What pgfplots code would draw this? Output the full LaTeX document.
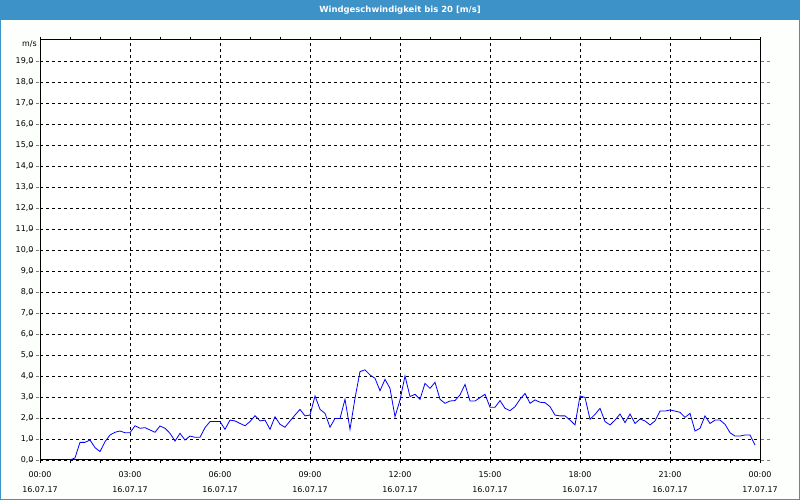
\documentclass[border=0pt]{standalone}
\usepackage{fontspec}
\setmainfont{DejaVu Sans}
\usepackage{pgfplots}
\pgfplotsset{compat=1.18}
\definecolor{titlebar}{RGB}{61,146,200}
\definecolor{bg}{RGB}{252,255,252}
\definecolor{line}{RGB}{0,0,255}
\begin{document}
\begin{tikzpicture}[x=1bp,y=1bp]
\useasboundingbox (0,0) rectangle (800,500);
\fill[bg] (0,0) rectangle (800,500);
\fill[titlebar] (0,480) rectangle (800,500);
\draw[titlebar,line width=1bp] (0.5,0.5) rectangle (799.5,499.5);
\node[text=white,font=\fontsize{8.5}{10}\selectfont\bfseries] at (400,490) {Windgeschwindigkeit bis 20 [m/s]};
\begin{axis}[
  at={(40bp,40bp)}, anchor=south west,
  scale only axis, width=720bp, height=420bp,
  xmin=0, xmax=1440, ymin=0, ymax=20,
  xtick={0,180,...,1440},
  minor xtick={60,120,240,300,420,480,600,660,780,840,960,1020,1140,1200,1320,1380},
  xticklabels={{00:00\\[5bp]16.07.17},{03:00\\[5bp]16.07.17},{06:00\\[5bp]16.07.17},{09:00\\[5bp]16.07.17},{12:00\\[5bp]16.07.17},{15:00\\[5bp]16.07.17},{18:00\\[5bp]16.07.17},{21:00\\[5bp]16.07.17},{00:00\\[5bp]17.07.17}},
  xticklabel style={align=center,font=\fontsize{8}{10}\selectfont, yshift=-5bp},
  ytick={0,1,...,19},
  yticklabel style={font=\fontsize{8}{10}\selectfont},
  /pgf/number format/.cd, fixed, fixed zerofill, precision=1, use comma, assume math mode=true,
  /pgfplots/.cd,
  tick align=outside,
  major tick length=3bp, minor tick length=3bp,
  ytick style={/pgfplots/major tick length=10bp, dash pattern=on 3bp off 3bp},
  xtick style={black},
  grid=major,
  major grid style={black, line width=0.8bp, dash pattern=on 3bp off 3bp},
  axis line style={black, line width=1bp},
  axis background/.style={fill=white},
  clip=false,
]
\addplot[line, line width=0.8bp] coordinates {
(60,0.0) (70,0.10) (80,0.84) (90,0.84) (100,0.95) (110,0.59) (120,0.40) (130,0.87) (140,1.19) (150,1.32)
(160,1.38) (170,1.30) (180,1.30) (190,1.63) (200,1.51) (210,1.54) (220,1.43) (230,1.32) (240,1.62) (250,1.51)
(260,1.27) (270,0.90) (280,1.27) (290,0.95) (300,1.14) (310,1.08) (320,1.08) (330,1.54) (340,1.83) (350,1.83)
(360,1.83) (370,1.46) (380,1.90) (390,1.86) (400,1.74) (410,1.63) (420,1.83) (430,2.11) (440,1.86) (450,1.90)
(460,1.46) (470,2.06) (480,1.70) (490,1.56) (500,1.86) (510,2.14) (520,2.41) (530,2.10) (540,2.14) (550,3.05)
(560,2.41) (570,2.22) (580,1.56) (590,1.98) (600,1.98) (610,2.89) (620,1.46) (630,2.94) (640,4.21) (650,4.29)
(660,4.05) (670,3.89) (680,3.30) (690,3.84) (700,3.41) (710,2.06) (720,2.86) (730,4.00) (740,3.02) (750,3.13)
(760,2.89) (770,3.65) (780,3.41) (790,3.70) (800,2.89) (810,2.70) (820,2.81) (830,2.83) (840,3.10) (850,3.60)
(860,2.81) (870,2.81) (880,2.97) (890,3.13) (900,2.51) (910,2.51) (920,2.83) (930,2.46) (940,2.35) (950,2.54)
(960,2.89) (970,3.17) (980,2.70) (990,2.86) (1000,2.75) (1010,2.73) (1020,2.54) (1030,2.14) (1040,2.10) (1050,2.10)
(1060,1.90) (1070,1.67) (1080,3.05) (1090,2.98) (1100,1.94) (1110,2.17) (1120,2.46) (1130,1.83) (1140,1.67) (1150,1.90)
(1160,2.19) (1170,1.78) (1180,2.19) (1190,1.74) (1200,1.95) (1210,1.86) (1220,1.67) (1230,1.86) (1240,2.33) (1250,2.33)
(1260,2.38) (1270,2.33) (1280,2.27) (1290,2.03) (1300,2.22) (1310,1.38) (1320,1.51) (1330,2.10) (1340,1.74) (1350,1.90)
(1360,1.90) (1370,1.70) (1380,1.30) (1390,1.14) (1400,1.14) (1410,1.19) (1420,1.19) (1430,0.71)
};
\node[anchor=north east, font=\fontsize{8}{10}\selectfont, inner sep=0pt] at (rel axis cs:0,1) [xshift=-3bp, yshift=-1bp] {m/s};
\end{axis}
\end{tikzpicture}
\end{document}
